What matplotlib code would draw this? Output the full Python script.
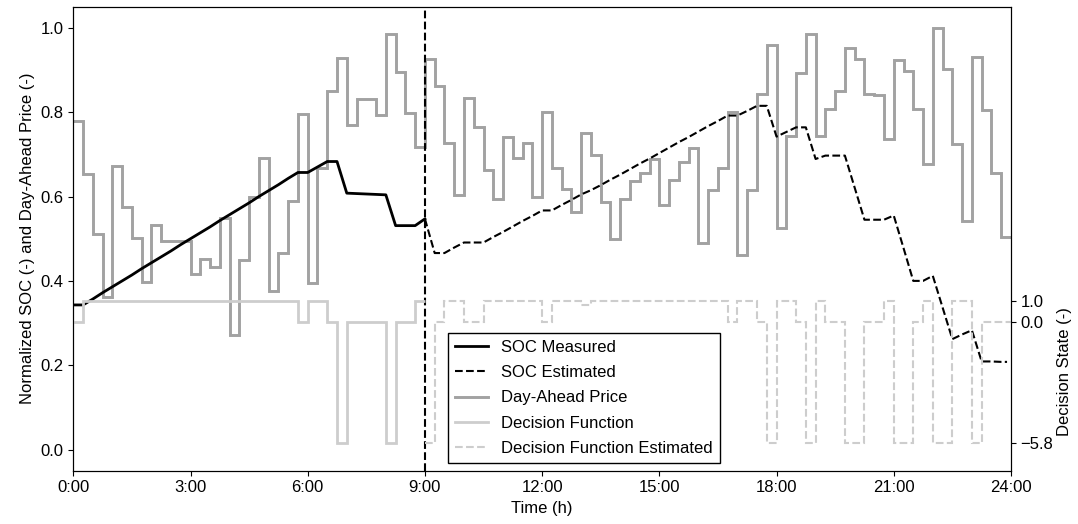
import numpy as np
import matplotlib
matplotlib.use("Agg")
import matplotlib.pyplot as plt

plt.rcParams['font.family'] = ['Liberation Sans', 'DejaVu Sans']
plt.rcParams['font.size'] = 12

# ---------------- data (15-min resolution, hours) ----------------
step_h = 0.25

price = [0.780, 0.653, 0.511, 0.362, 0.673, 0.576, 0.501, 0.398, 0.533, 0.495,
         0.495, 0.495, 0.416, 0.451, 0.433, 0.549, 0.272, 0.450, 0.598, 0.691,
         0.375, 0.465, 0.590, 0.796, 0.394, 0.667, 0.849, 0.929, 0.770, 0.832,
         0.832, 0.794, 0.985, 0.895, 0.798, 0.717, 0.926, 0.861, 0.728, 0.604,
         0.833, 0.766, 0.664, 0.595, 0.742, 0.691, 0.727, 0.600, 0.800, 0.667,
         0.618, 0.563, 0.750, 0.699, 0.588, 0.499, 0.595, 0.636, 0.656, 0.690,
         0.581, 0.640, 0.681, 0.715, 0.490, 0.616, 0.667, 0.800, 0.462, 0.616,
         0.844, 0.960, 0.525, 0.744, 0.893, 0.985, 0.744, 0.808, 0.851, 0.952,
         0.927, 0.843, 0.840, 0.736, 0.923, 0.898, 0.808, 0.678, 1.000, 0.902,
         0.725, 0.543, 0.930, 0.806, 0.656, 0.503]

decision_meas = [0, 1, 1, 1, 1, 1, 1, 1, 1, 1,
                 1, 1, 1, 1, 1, 1, 1, 1, 1, 1,
                 1, 1, 1, 0, 1, 1, 0, -5.8, 0, 0,
                 0, 0, -5.8, 0, 0, 1]

decision_est = [-5.8, 0, 1, 1, 0, 0, 1, 1, 1, 1,
                1, 1, 0, 1, 1, 1, 0.8, 1, 1, 1,
                1, 1, 1, 1, 1, 1, 1, 1, 1, 1,
                1, 0, 1, 1, 0, -5.8, 1, 1, 0, -5.8,
                1, 0, 0, -5.8, -5.8, 0, 0, 1, -5.8, -5.8,
                0, 1, -5.8, -5.8, 1, 1, -5.8, 0, 0, 0]

soc_meas = [0.343, 0.343, 0.357, 0.372, 0.386, 0.400, 0.414, 0.429, 0.443, 0.457,
            0.471, 0.486, 0.500, 0.514, 0.528, 0.543, 0.557, 0.571, 0.585, 0.600,
            0.614, 0.628, 0.643, 0.657, 0.657, 0.670, 0.683, 0.683, 0.608, 0.607,
            0.606, 0.605, 0.604, 0.531, 0.531, 0.531, 0.547]

soc_est = [0.547, 0.466, 0.466, 0.479, 0.491, 0.491, 0.491, 0.504, 0.516, 0.529,
           0.542, 0.554, 0.567, 0.567, 0.580, 0.592, 0.605, 0.615, 0.627, 0.640,
           0.652, 0.665, 0.678, 0.690, 0.703, 0.716, 0.729, 0.741, 0.754, 0.767,
           0.779, 0.792, 0.792, 0.803, 0.815, 0.815, 0.742, 0.753, 0.764, 0.764,
           0.689, 0.697, 0.697, 0.697, 0.621, 0.545, 0.545, 0.545, 0.555, 0.478,
           0.400, 0.400, 0.412, 0.337, 0.262, 0.273, 0.283, 0.209, 0.209, 0.208,
           0.208]
soc_est_end_h = 23.9

now_h = 9.0
xtick_hours = [0, 3, 6, 9, 12, 15, 18, 21, 24]
xtick_labels = ["0:00", "3:00", "6:00", "9:00", "12:00", "15:00", "18:00", "21:00", "24:00"]
right_ticks = [1.0, 0.0, -5.8]

# ---------------- derived positions ----------------
price_edges = np.arange(len(price) + 1) * step_h
dm_edges = np.arange(len(decision_meas) + 1) * step_h
de_edges = now_h + np.arange(len(decision_est) + 1) * step_h
soc_meas_t = np.arange(len(soc_meas)) * step_h
soc_est_t = np.append(now_h + np.arange(len(soc_est) - 1) * step_h, soc_est_end_h)

# ---------------- plot ----------------
fig = plt.figure(figsize=(10.78, 5.24), dpi=100)
ax = fig.add_axes([0.068, 0.1017, 0.8698, 0.8855])
ax2 = ax.twinx()

c_price = '#a2a2a2'
c_dec = '#cdcdcd'

h_price = ax.stairs(price, price_edges, baseline=None, color=c_price, lw=2.1,
                    label='Day-Ahead Price', zorder=2)
h_sm, = ax.plot(soc_meas_t, soc_meas, color='black', lw=2.0, label='SOC Measured', zorder=3)
h_se, = ax.plot(soc_est_t, soc_est, color='black', lw=1.5, ls='--', label='SOC Estimated', zorder=3)
ax.axvline(now_h, color='black', lw=1.5, ls='--', zorder=4)

h_dm = ax2.stairs(decision_meas, dm_edges, baseline=None, color=c_dec, lw=2.0,
                  label='Decision Function')
h_de = ax2.stairs(decision_est, de_edges, baseline=None, color=c_dec, lw=1.5, ls='--',
                  label='Decision Function Estimated')

ax.set_xlim(0, 24)
ax.set_ylim(-0.05, 1.05)
ax.set_xticks(xtick_hours)
ax.set_xticklabels(xtick_labels)
ax.set_yticks([0.0, 0.2, 0.4, 0.6, 0.8, 1.0])
ax.set_xlabel('Time (h)')
ax.set_ylabel('Normalized SOC (-) and Day-Ahead Price (-)')

ax2.set_ylim(-7.1, 15.0)
ax2.set_yticks(right_ticks)
ax2.set_yticklabels(['1.0', '0.0', '\u22125.8'])
ax2.set_ylabel('Decision State (-)')
ax2.yaxis.set_label_coords(1.049, 0.213)

handles = [h_sm, h_se,
           plt.Line2D([], [], color=c_price, lw=2.1),
           plt.Line2D([], [], color=c_dec, lw=2.0),
           plt.Line2D([], [], color=c_dec, lw=1.5, ls='--')]
labels = ['SOC Measured', 'SOC Estimated', 'Day-Ahead Price', 'Decision Function',
          'Decision Function Estimated']
leg = ax2.legend(handles, labels, loc='lower left', bbox_to_anchor=(0.3996, 0.0172),
                 borderaxespad=0, fancybox=False, edgecolor='black', framealpha=1,
                 fontsize=12, labelspacing=0.62)
leg.get_frame().set_linewidth(1.0)

fig.savefig('out.png', dpi=100)
